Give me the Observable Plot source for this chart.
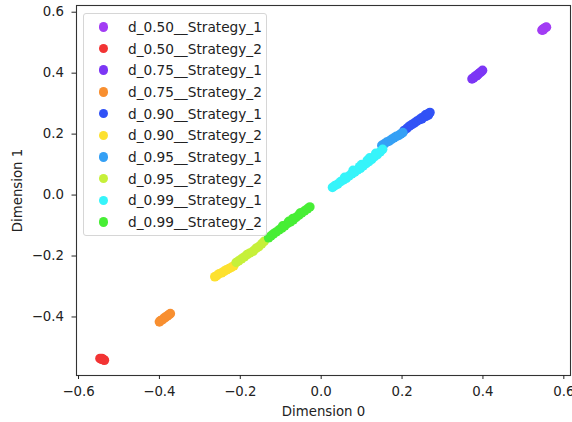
<!DOCTYPE html>
<html>
<head>
<meta charset="utf-8">
<script src="https://cdn.jsdelivr.net/npm/d3@7"></script>
<script src="https://cdn.jsdelivr.net/npm/@observablehq/plot@0.6"></script>
<style>
  html, body { margin: 0; padding: 0; background: #fff; overflow: hidden; }
  #wrap { position: relative; width: 572px; height: 422px; }
  #legend {
    position: absolute; left: 83px; top: 13px; width: 184px;
    box-sizing: border-box; padding: 2px 0 2px 0;
    border: 1px solid #d6d6d6; border-radius: 3px; background: rgba(255,255,255,0.85);
    font-family: "DejaVu Sans", sans-serif; font-size: 13.7px; color: #222;
  }
  #legend .row { height: 21.7px; display: flex; align-items: center; }
  #legend .sw { width: 9.5px; height: 9.5px; border-radius: 50%; margin-left: 14.5px; margin-right: 20px; flex: none; }
</style>
</head>
<body>
<div id="wrap"></div>
<script>
// Series names and their marker colours
const seriesNames = [
  "d_0.50__Strategy_1", "d_0.50__Strategy_2",
  "d_0.75__Strategy_1", "d_0.75__Strategy_2",
  "d_0.90__Strategy_1", "d_0.90__Strategy_2",
  "d_0.95__Strategy_1", "d_0.95__Strategy_2",
  "d_0.99__Strategy_1", "d_0.99__Strategy_2"
];
const seriesColors = [
  "#a23cf4", "#f23434",
  "#7c36f5", "#f88f30",
  "#3152f6", "#fde12f",
  "#35a0f5", "#c6f03a",
  "#36f4fa", "#47ee35"
];

// Embedding coordinates [Dimension 0, Dimension 1] per series
const d050_s1 = [[0.546, 0.541], [0.548, 0.544], [0.550, 0.545], [0.552, 0.547], [0.555, 0.550], [0.557, 0.551], [0.549, 0.542]];
const d050_s2 = [[-0.547, -0.536], [-0.544, -0.538], [-0.541, -0.539], [-0.538, -0.540], [-0.536, -0.542], [-0.542, -0.536]];
const d075_s1 = [[0.373, 0.381], [0.377, 0.385], [0.381, 0.390], [0.384, 0.391], [0.386, 0.394], [0.389, 0.398], [0.393, 0.402], [0.396, 0.405], [0.399, 0.409]];
const d075_s2 = [[-0.400, -0.416], [-0.397, -0.412], [-0.392, -0.409], [-0.388, -0.403], [-0.385, -0.401], [-0.380, -0.396], [-0.376, -0.392], [-0.373, -0.389]];
const d090_s1 = [[0.205, 0.212], [0.212, 0.219], [0.218, 0.226], [0.224, 0.231], [0.230, 0.236], [0.236, 0.242], [0.242, 0.247], [0.249, 0.250], [0.248, 0.253], [0.254, 0.257], [0.258, 0.263], [0.259, 0.258], [0.263, 0.266], [0.265, 0.262], [0.267, 0.268], [0.269, 0.271]];
const d090_s2 = [[-0.263, -0.268], [-0.258, -0.264], [-0.252, -0.258], [-0.246, -0.255], [-0.240, -0.250], [-0.234, -0.245], [-0.228, -0.241], [-0.222, -0.237], [-0.216, -0.232]];
const d095_s1 = [[0.150, 0.163], [0.156, 0.168], [0.162, 0.174], [0.168, 0.177], [0.174, 0.183], [0.180, 0.188], [0.186, 0.193], [0.192, 0.196], [0.197, 0.201], [0.202, 0.205]];
const d095_s2 = [[-0.210, -0.221], [-0.204, -0.216], [-0.197, -0.209], [-0.190, -0.203], [-0.183, -0.195], [-0.176, -0.190], [-0.168, -0.184], [-0.161, -0.175], [-0.154, -0.169], [-0.147, -0.160], [-0.141, -0.152]];
const d099_s1 = [[0.028, 0.025], [0.034, 0.031], [0.041, 0.036], [0.048, 0.044], [0.055, 0.050], [0.058, 0.058], [0.062, 0.055], [0.069, 0.063], [0.076, 0.070], [0.079, 0.081], [0.083, 0.075], [0.090, 0.083], [0.095, 0.093], [0.097, 0.088], [0.100, 0.100], [0.104, 0.096], [0.111, 0.103], [0.114, 0.114], [0.118, 0.110], [0.120, 0.122], [0.125, 0.117], [0.132, 0.126], [0.135, 0.137], [0.139, 0.133], [0.146, 0.142], [0.152, 0.150]];
const d099_s2 = [[-0.130, -0.140], [-0.124, -0.134], [-0.118, -0.127], [-0.111, -0.121], [-0.104, -0.114], [-0.097, -0.108], [-0.095, -0.101], [-0.090, -0.101], [-0.083, -0.093], [-0.080, -0.086], [-0.076, -0.088], [-0.070, -0.077], [-0.069, -0.081], [-0.062, -0.073], [-0.055, -0.066], [-0.052, -0.059], [-0.048, -0.058], [-0.041, -0.052], [-0.034, -0.045], [-0.028, -0.039]];

const xTicks = [-0.6, -0.4, -0.2, 0.0, 0.2, 0.4, 0.6];
const yTicks = [-0.4, -0.2, 0.0, 0.2, 0.4, 0.6];

const groups = [d050_s1, d050_s2, d075_s1, d075_s2, d090_s1, d090_s2, d095_s1, d095_s2, d099_s1, d099_s2];
// Flatten in series order so later series paint on top
const points = groups.flatMap((pts, i) => pts.map(([x, y]) => ({x, y, series: seriesNames[i]})));

const fmt = d3.format(".1f");

const chart = Plot.plot({
  width: 572,
  height: 422,
  marginLeft: 76,
  marginRight: 2,
  marginTop: 5,
  marginBottom: 47,
  style: {fontFamily: "DejaVu Sans, sans-serif", fontSize: "13.3px", color: "#222", background: "#fff"},
  x: {domain: [-0.605, 0.6165]},
  y: {domain: [-0.592, 0.622]},
  color: {domain: seriesNames, range: seriesColors},
  marks: [
    Plot.dot(points, {x: "x", y: "y", fill: "series", r: 4.8}),
    Plot.frame({stroke: "#333", strokeWidth: 1.1}),
    Plot.axisX({ticks: xTicks, tickFormat: fmt, tickSize: 4, tickPadding: 7,
      label: "Dimension 0", labelAnchor: "center", labelArrow: "none", labelOffset: 40}),
    Plot.axisY({ticks: yTicks, tickFormat: fmt, tickSize: 4.5, tickPadding: 8,
      label: "Dimension 1", labelAnchor: "center", labelArrow: "none", labelOffset: 64})
  ]
});

const wrap = document.getElementById("wrap");
wrap.appendChild(chart);

// Legend box in the upper-left corner of the plotting area
const legend = document.createElement("div");
legend.id = "legend";
seriesNames.forEach((name, i) => {
  const row = document.createElement("div");
  row.className = "row";
  const sw = document.createElement("span");
  sw.className = "sw";
  sw.style.background = seriesColors[i];
  const label = document.createElement("span");
  label.textContent = name;
  row.appendChild(sw);
  row.appendChild(label);
  legend.appendChild(row);
});
wrap.appendChild(legend);
</script>
</body>
</html>
